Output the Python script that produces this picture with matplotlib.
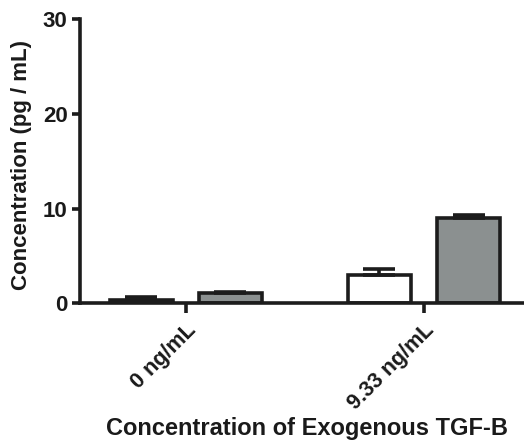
import matplotlib
matplotlib.use("Agg")
import matplotlib.pyplot as plt
import numpy as np

plt.rcParams['font.family'] = ['Liberation Sans', 'DejaVu Sans']
plt.rcParams['font.weight'] = 'bold'

categories = ["0 ng/mL", "9.33 ng/mL"]
white_vals = [0.4, 3.0]
white_err = [0.3, 0.6]
gray_vals = [1.05, 8.95]
gray_err = [0.1, 0.4]
yticks = [0, 10, 20, 30]

edge = "#1c1c1c"
gray = "#8b9090"

fig = plt.figure(figsize=(5.24, 4.48), dpi=100)
ax = fig.add_axes([80/524, 144.7/448, 1 - 80/524, (303.3-19)/448])

x = np.arange(len(categories))
w = 0.265
off = 0.187
lw = 2.6
ax.bar(x - off, white_vals, width=w, color="white", edgecolor=edge, linewidth=lw, zorder=2)
ax.bar(x + off, gray_vals, width=w, color=gray, edgecolor=edge, linewidth=lw, zorder=2)
ax.errorbar(x - off, white_vals, yerr=[np.zeros(2), white_err], fmt='none', ecolor=edge,
            elinewidth=lw, capsize=11.5, capthick=lw, zorder=3)
ax.errorbar(x + off, gray_vals, yerr=[np.zeros(2), gray_err], fmt='none', ecolor=edge,
            elinewidth=lw, capsize=11.5, capthick=lw, zorder=3)

ax.set_xlim(-0.445, 1.42)
ax.set_ylim(0, 30)
ax.set_yticks(yticks)
ax.set_yticklabels([str(t) for t in yticks], fontsize=16, fontweight='bold', color="#1a1a1a")
ax.set_xticks(x)
ax.set_xticklabels(categories, rotation=45, ha='right', rotation_mode='anchor',
                   fontsize=15.5, fontweight='bold', color="#1a1a1a")

for s in ['top', 'right']:
    ax.spines[s].set_visible(False)
for s in ['left', 'bottom']:
    ax.spines[s].set_linewidth(2.6)
    ax.spines[s].set_color(edge)
ax.spines['bottom'].set_zorder(4)
ax.tick_params(axis='y', width=2.6, length=6, color=edge, direction='out', pad=3)
ax.tick_params(axis='x', width=2.6, length=7, color=edge, direction='out', pad=5)

fig.text(22/524, (448 - 165)/448, "Concentration (pg / mL)", fontsize=16, fontweight='bold',
         color="#1a1a1a", ha='center', va='center', rotation=90)
fig.text(0.585, (448 - 428)/448, "Concentration of Exogenous TGF-B", fontsize=17, fontweight='bold',
         color="#1a1a1a", ha='center', va='center')

fig.savefig("out.png", dpi=100)
